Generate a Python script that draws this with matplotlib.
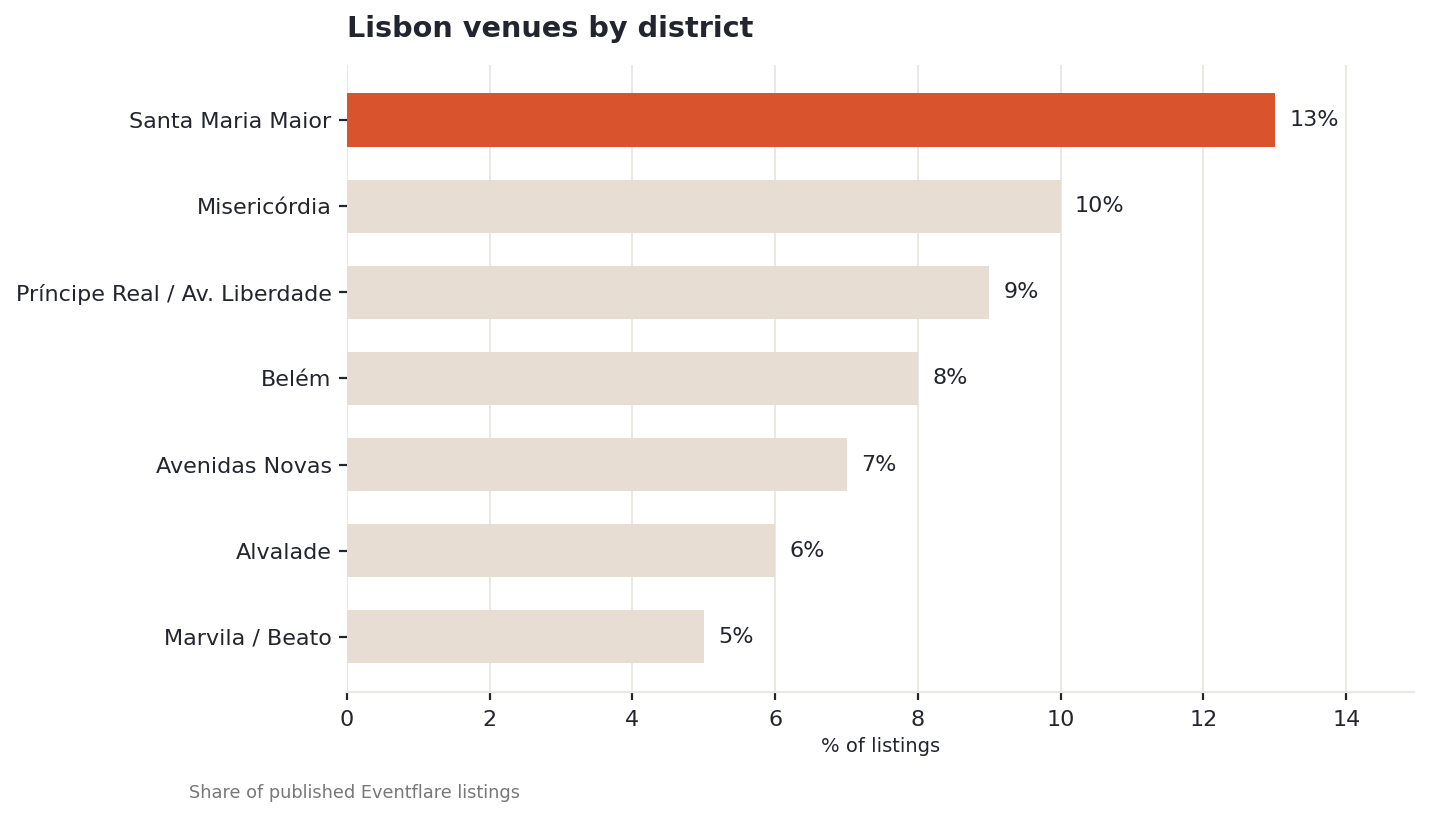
import matplotlib.pyplot as plt

districts = ["Santa Maria Maior", "Misericórdia", "Príncipe Real / Av. Liberdade",
             "Belém", "Avenidas Novas", "Alvalade", "Marvila / Beato"]
shares = [13, 10, 9, 8, 7, 6, 5]
highlight = "Santa Maria Maior"

text_color = "#22252f"
light = "#ebe7e3"

fig, ax = plt.subplots(figsize=(7.145, 4.095), dpi=200)
fig.subplots_adjust(left=347/1429, right=1414/1429, top=1-65/819, bottom=1-692/819)

colors = ["#d9532c" if d == highlight else "#e8ddd3" for d in districts]
ax.barh(districts, shares, height=0.62, color=colors, zorder=3)
ax.invert_yaxis()

for i, v in enumerate(shares):
    ax.text(v + 0.2, i, f"{v}%", va="center", ha="left", fontsize=8, color=text_color)

ax.set_xlim(0, max(shares) * 1.15)
ax.set_xticks(range(0, 15, 2))
ax.grid(axis="x", color=light, linewidth=0.7, zorder=0)
for s in ["top", "right", "left"]:
    ax.spines[s].set_visible(False)
ax.spines["bottom"].set_color(light)
ax.spines["bottom"].set_linewidth(0.8)
ax.tick_params(axis="both", labelsize=8, colors=text_color, length=3, width=0.8)
ax.tick_params(axis="y", pad=2.5)
ax.set_xlabel("% of listings", fontsize=7, color=text_color, labelpad=2.5)
ax.set_title("Lisbon venues by district", loc="left", fontsize=10.35, fontweight="bold",
             color=text_color, pad=10)
fig.text(189/1429, 1-793/819, "Share of published Eventflare listings", fontsize=6.4,
         color="#777777", va="center", ha="left")

fig.savefig("out.png", dpi=200)
